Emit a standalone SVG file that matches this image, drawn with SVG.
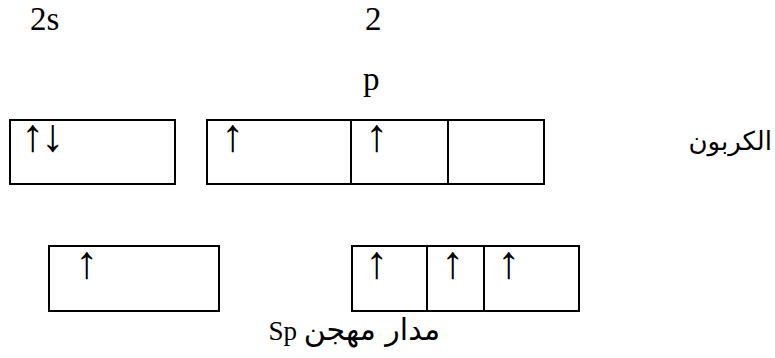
<svg xmlns="http://www.w3.org/2000/svg" width="775" height="358" viewBox="0 0 775 358">
<style>
.box{fill:#fff;stroke:#000;stroke-width:2}
.ln{stroke:#000;stroke-width:2}
.t{font-family:"Liberation Serif","DejaVu Sans",serif;font-size:33px;fill:#000}
.ar{font-family:"Liberation Serif",serif;font-size:46px;fill:#000}
.ab{font-family:"DejaVu Sans","Noto Sans",sans-serif;font-size:26px;fill:#000}
.mx{font-family:"Liberation Serif","DejaVu Sans",serif;font-size:27px;fill:#000}
.mxa{font-family:"DejaVu Sans",sans-serif;font-size:30px}
</style>
<rect width="775" height="358" fill="#fff"/>
<g id="labels">
<text class="t" x="30" y="30">2s</text>
<text class="t" x="365" y="30">2</text>
<text class="t" x="363" y="90">p</text>
<text class="ab" x="772" y="150" text-anchor="end">الكربون</text>
<text class="mx" x="440" y="340" direction="rtl" unicode-bidi="embed" text-anchor="start"><tspan class="mxa">مدار مهجن</tspan> Sp</text>
</g>
<g id="ground-2s">
<rect class="box" x="10" y="120" width="165" height="64"/>
<text class="ar" x="21" y="151" letter-spacing="-3">↑↓</text>
</g>
<g id="ground-2p">
<rect class="box" x="207" y="120" width="337" height="64"/>
<line class="ln" x1="351" y1="120" x2="351" y2="184"/>
<line class="ln" x1="448" y1="120" x2="448" y2="184"/>
<text class="ar" x="221" y="151">↑</text>
<text class="ar" x="365" y="151">↑</text>
</g>
<g id="excited-s">
<rect class="box" x="49" y="246" width="170" height="65"/>
<text class="ar" x="75" y="278">↑</text>
</g>
<g id="sp-hybrid">
<rect class="box" x="352" y="246" width="227" height="65"/>
<line class="ln" x1="427" y1="246" x2="427" y2="311"/>
<line class="ln" x1="484" y1="246" x2="484" y2="311"/>
<text class="ar" x="365" y="278">↑</text>
<text class="ar" x="441" y="278">↑</text>
<text class="ar" x="497" y="278">↑</text>
</g>
<g id="connectors"/>
</svg>
